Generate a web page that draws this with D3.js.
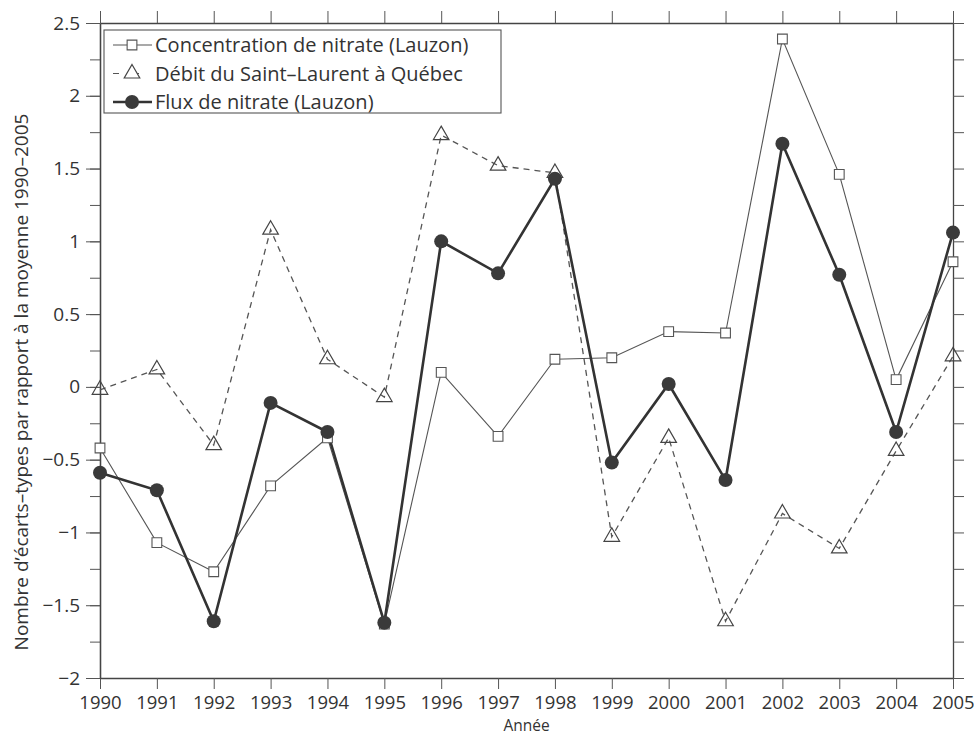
<!DOCTYPE html>
<html>
<head>
<meta charset="utf-8">
<script src="https://cdn.jsdelivr.net/npm/d3@7"></script>
<style>
  body { margin: 0; background: #fff; }
  text { font-family: "Open Sans", sans-serif; fill: #333; }
</style>
</head>
<body>
<svg id="chart"></svg>
<script>
const WIDTH = 974;
const HEIGHT = 735;

const years = d3.range(1990, 2006);
const concentration = [-0.42, -1.07, -1.27, -0.68, -0.35, -1.63, 0.10, -0.34, 0.19, 0.20, 0.38, 0.37, 2.39, 1.46, 0.05, 0.86];
const debit = [-0.02, 0.12, -0.40, 1.08, 0.19, -0.07, 1.73, 1.52, 1.47, -1.03, -0.35, -1.61, -0.87, -1.11, -0.44, 0.21];
const flux = [-0.59, -0.71, -1.61, -0.11, -0.31, -1.62, 1.00, 0.78, 1.43, -0.52, 0.02, -0.64, 1.67, 0.77, -0.31, 1.06];
const yTicks = [-2, -1.5, -1, -0.5, 0, 0.5, 1, 1.5, 2, 2.5];
const legendLabels = ["Concentration de nitrate (Lauzon)", "Débit du Saint\u2013Laurent à Québec", "Flux de nitrate (Lauzon)"];

const svg = d3.select("#chart")
  .attr("width", WIDTH)
  .attr("height", HEIGHT);

const x = d3.scaleLinear().domain([1990, 2005]).range([100, 953]);
const y = d3.scaleLinear().domain([-2, 2.5]).range([678, 23]);

const minor = d3.range(-2, 2.51, 0.25);
const fmt = d => d < 0 ? "\u2212" + Math.abs(d) : String(d);

// axes
const styleAxis = (g, size = 19) => {
  g.select(".domain").attr("stroke", "#444").attr("stroke-width", 1.3);
  g.selectAll(".tick line").attr("stroke", "#555");
  g.selectAll(".tick text").attr("font-size", size).attr("fill", "#333");
};

svg.append("g")
  .attr("transform", "translate(0,678)")
  .call(d3.axisBottom(x).tickValues(years).tickFormat(d3.format("d")).tickSize(11).tickPadding(7).tickSizeOuter(0))
  .call(styleAxis, 18.5);

svg.append("g")
  .attr("transform", "translate(0,23)")
  .call(d3.axisTop(x).tickValues(years).tickFormat("").tickSize(12).tickSizeOuter(0))
  .call(styleAxis);

svg.append("g")
  .attr("transform", "translate(100,0)")
  .call(d3.axisLeft(y).tickValues(minor).tickFormat("").tickSize(10).tickSizeOuter(0))
  .call(styleAxis);

svg.append("g")
  .attr("transform", "translate(100,0)")
  .call(d3.axisLeft(y).tickValues(yTicks).tickFormat(fmt).tickSize(14).tickPadding(6).tickSizeOuter(0))
  .call(styleAxis);

svg.append("g")
  .attr("transform", "translate(953,0)")
  .call(d3.axisRight(y).tickValues(minor).tickFormat("").tickSize(11).tickSizeOuter(0))
  .call(styleAxis);

// axis titles
svg.append("text")
  .attr("x", x(1997.5))
  .attr("y", 730.5)
  .attr("text-anchor", "middle")
  .attr("font-size", 15.5)
  .text("Année");

svg.append("text")
  .attr("transform", `translate(28,382) rotate(-90)`)
  .attr("text-anchor", "middle")
  .attr("font-size", 19)
  .text("Nombre d\u2019écarts\u2013types par rapport à la moyenne 1990\u20132005");

// series
const line = d3.line().x((d, i) => x(years[i])).y(d => y(d));

svg.append("path").datum(debit)
  .attr("fill", "none").attr("stroke", "#555").attr("stroke-width", 1.3)
  .attr("stroke-dasharray", "6 5").attr("d", line);

svg.append("path").datum(concentration)
  .attr("fill", "none").attr("stroke", "#555").attr("stroke-width", 1.1)
  .attr("d", line);

svg.append("path").datum(flux)
  .attr("fill", "none").attr("stroke", "#333").attr("stroke-width", 2.6)
  .attr("d", line);

const square = d3.symbol().type(d3.symbolSquare).size(95);
const triangle = d3.symbol().type(d3.symbolTriangle).size(105);

svg.append("g").selectAll("path").data(debit).join("path")
  .attr("transform", (d, i) => `translate(${x(years[i])},${y(d)})`)
  .attr("d", triangle)
  .attr("fill", "none").attr("stroke", "#444").attr("stroke-width", 1.2);

svg.append("g").selectAll("path").data(concentration).join("path")
  .attr("transform", (d, i) => `translate(${x(years[i])},${y(d)})`)
  .attr("d", square)
  .attr("fill", "#fff").attr("stroke", "#555").attr("stroke-width", 1.1);

svg.append("g").selectAll("circle").data(flux).join("circle")
  .attr("cx", (d, i) => x(years[i]))
  .attr("cy", d => y(d))
  .attr("r", 7)
  .attr("fill", "#3a3a3a");

// legend
const legend = svg.append("g");
legend.append("rect")
  .attr("x", 104).attr("y", 30).attr("width", 397).attr("height", 83)
  .attr("fill", "#fff").attr("stroke", "#555").attr("stroke-width", 1.1);

const rows = legend.selectAll("g.row").data(legendLabels).join("g")
  .attr("class", "row")
  .attr("transform", (d, i) => `translate(0,${45 + i * 28.5})`);

rows.append("line")
  .attr("x1", 113).attr("x2", 152)
  .attr("stroke", (d, i) => i === 2 ? "#333" : "#555")
  .attr("stroke-width", (d, i) => i === 2 ? 2.6 : 1.2)
  .attr("stroke-dasharray", (d, i) => i === 1 ? "6 14" : null);

rows.each(function (d, i) {
  const g = d3.select(this);
  if (i === 0) g.append("path").attr("transform", "translate(132,0)").attr("d", square)
    .attr("fill", "#fff").attr("stroke", "#555").attr("stroke-width", 1.1);
  if (i === 1) g.append("path").attr("transform", "translate(132,0)").attr("d", triangle)
    .attr("fill", "#fff").attr("stroke", "#444").attr("stroke-width", 1.2);
  if (i === 2) g.append("circle").attr("cx", 132).attr("r", 7).attr("fill", "#3a3a3a");
});

rows.append("text")
  .attr("x", 155).attr("dy", "0.35em")
  .attr("font-size", 20)
  .text(d => d);
</script>
</body>
</html>
